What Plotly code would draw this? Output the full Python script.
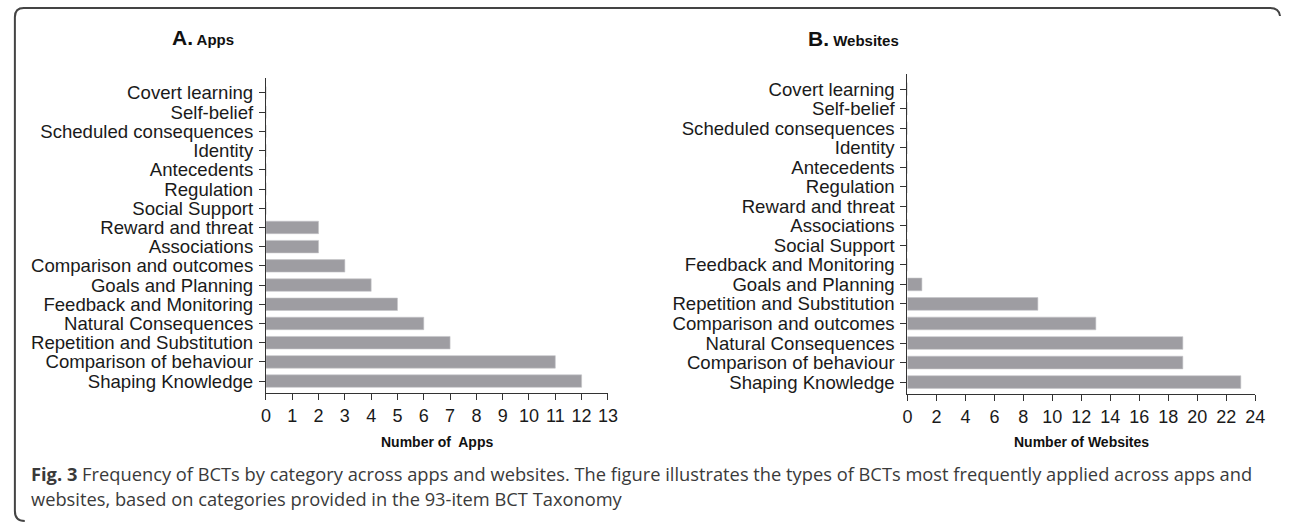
import plotly.graph_objects as go

W, H = 1292, 523

# ---------------- data ----------------
apps_categories = [
    "Covert learning", "Self-belief", "Scheduled consequences", "Identity",
    "Antecedents", "Regulation", "Social Support", "Reward and threat",
    "Associations", "Comparison and outcomes", "Goals and Planning",
    "Feedback and Monitoring", "Natural Consequences",
    "Repetition and Substitution", "Comparison of behaviour", "Shaping Knowledge",
]
apps_values = [0, 0, 0, 0, 0, 0, 0, 2, 2, 3, 4, 5, 6, 7, 11, 12]

web_categories = [
    "Covert learning", "Self-belief", "Scheduled consequences", "Identity",
    "Antecedents", "Regulation", "Reward and threat", "Associations",
    "Social Support", "Feedback and Monitoring", "Goals and Planning",
    "Repetition and Substitution", "Comparison and outcomes",
    "Natural Consequences", "Comparison of behaviour", "Shaping Knowledge",
]
web_values = [0, 0, 0, 0, 0, 0, 0, 0, 0, 0, 1, 9, 13, 19, 19, 23]

apps_ticks = list(range(0, 14, 1))
web_ticks = list(range(0, 25, 2))

caption_bold = "Fig. 3"
caption_line1 = (" Frequency of BCTs by category across apps and websites. The figure "
                 "illustrates the types of BCTs most frequently applied across apps and")
caption_line2 = "websites, based on categories provided in the 93-item BCT Taxonomy"


def px(x):
    return x / W


def py(y):
    return 1 - y / H


BAR = "#9e9da2"
AX = "#333333"
FONT = "Liberation Sans, Arial, sans-serif"

fig = go.Figure()

# reverse so first category is at top
fig.add_trace(go.Bar(
    x=apps_values[::-1], y=apps_categories[::-1], orientation="h",
    marker=dict(color=BAR, line=dict(color="#c4c4c8", width=0.6)),
    width=0.65, xaxis="x", yaxis="y", showlegend=False,
))
fig.add_trace(go.Bar(
    x=web_values[::-1], y=web_categories[::-1], orientation="h",
    marker=dict(color=BAR, line=dict(color="#c4c4c8", width=0.6)),
    width=0.65, xaxis="x2", yaxis="y2", showlegend=False,
))

common_x = dict(
    showgrid=False, zeroline=False, showline=True, linecolor=AX, linewidth=1,
    ticks="outside", ticklen=6, tickcolor=AX, tickwidth=1,
    tickfont=dict(family=FONT, size=18, color="#1a1a1a"),
)
common_y = dict(
    showgrid=False, zeroline=False, showline=True, linecolor=AX, linewidth=1,
    ticks="outside", ticklen=6, tickcolor=AX, tickwidth=1,
    tickfont=dict(family=FONT, size=18.6, color="#1a1a1a"),
    type="category", tickmode="array", ticklabelstandoff=2,
)

fig.update_layout(
    width=W, height=H,
    margin=dict(l=0, r=0, t=0, b=0),
    paper_bgcolor="white", plot_bgcolor="white",
    xaxis=dict(domain=[px(264), px(610)], range=[0, 13], tickvals=apps_ticks,
               anchor="y", **common_x),
    yaxis=dict(domain=[py(393), py(78)], range=[-0.62, 15.78], anchor="x",
               tickvals=apps_categories, ticktext=apps_categories, **common_y),
    xaxis2=dict(domain=[px(913), px(1265)], range=[0, 24], tickvals=web_ticks,
                anchor="y2", **common_x),
    yaxis2=dict(domain=[py(394), py(74)], range=[-0.61, 15.77], anchor="x2",
                tickvals=web_categories, ticktext=web_categories, **common_y),
)

annotations = [
    dict(x=px(200), y=py(37), xref="paper", yref="paper", showarrow=False,
         text="<b><span style='font-size:21px'>A.</span> Apps</b>",
         font=dict(family=FONT, size=15, color="#111"), xanchor="center", yanchor="middle"),
    dict(x=px(858), y=py(38), xref="paper", yref="paper", showarrow=False,
         text="<b><span style='font-size:21px'>B.</span> Websites</b>",
         font=dict(family=FONT, size=15, color="#111"), xanchor="center", yanchor="middle"),
    dict(x=px(437), y=py(442), xref="paper", yref="paper", showarrow=False,
         text="<b>Number of  Apps</b>",
         font=dict(family=FONT, size=14, color="#111"), xanchor="center", yanchor="middle"),
    dict(x=px(1089), y=py(442), xref="paper", yref="paper", showarrow=False,
         text="<b>Number of Websites</b>",
         font=dict(family=FONT, size=14, color="#111"), xanchor="center", yanchor="middle"),
    dict(x=px(24), y=py(473), xref="paper", yref="paper", showarrow=False,
         text="<b>" + caption_bold + "</b>" + caption_line1,
         font=dict(family="Open Sans, sans-serif", size=18.3, color="#3a3a3a"),
         xanchor="left", yanchor="middle"),
    dict(x=px(24), y=py(498), xref="paper", yref="paper", showarrow=False,
         text=caption_line2,
         font=dict(family="Open Sans, sans-serif", size=18.3, color="#3a3a3a"),
         xanchor="left", yanchor="middle"),
]
fig.update_layout(annotations=annotations)


# rounded frame (left, top, right corner)
def P(x, y):
    return f"{px(x):.5f},{py(y):.5f}"


path = ("M " + P(20, 521) + " Q " + P(10, 521) + " " + P(10, 511) +
        " L " + P(10, 17) + " Q " + P(10, 8) + " " + P(19, 8) +
        " L " + P(1280, 8) + " Q " + P(1289, 8) + " " + P(1290, 16))
fig.add_shape(type="path", path=path, xref="paper", yref="paper",
              line=dict(color="#444", width=2))

fig.write_html(
    "out.html",
    config={"displayModeBar": False, "responsive": False},
    post_script=("document.documentElement.style.margin='0';"
                 "document.documentElement.style.overflow='hidden';"
                 "document.body.style.margin='0';"
                 "document.body.style.overflow='hidden';"),
)
